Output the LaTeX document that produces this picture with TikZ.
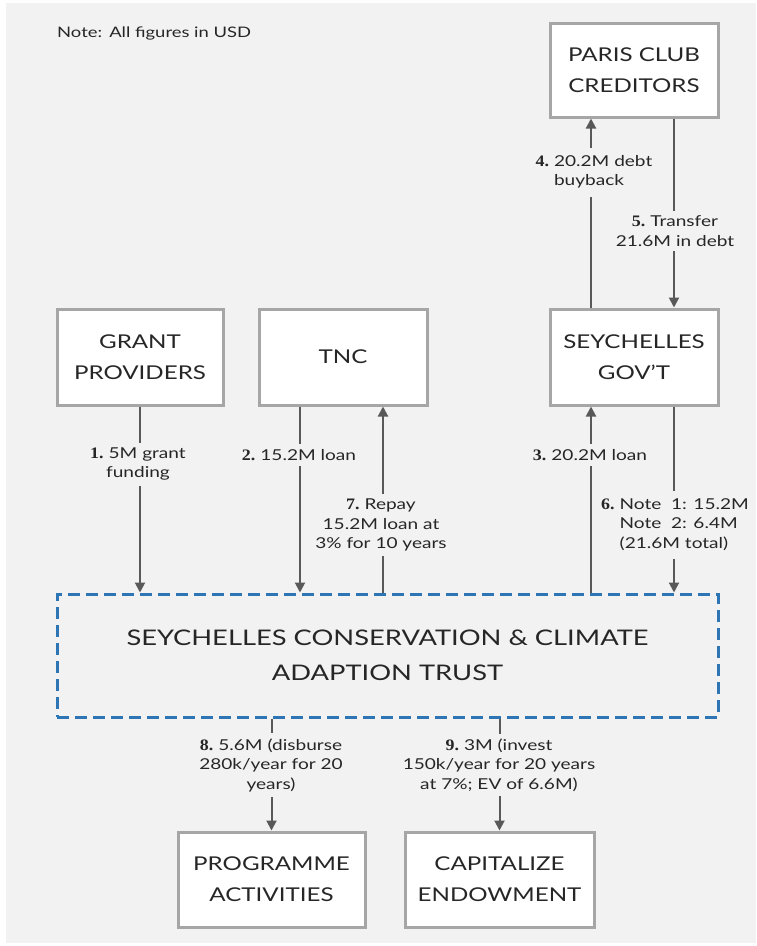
\documentclass[tikz,border=0pt]{standalone}
\usepackage{fontspec}
\setmainfont{Lato}[FakeStretch=1.27]
\newfontfamily\numfont{Liberation Serif}[FakeStretch=1.12]
\usetikzlibrary{arrows.meta,calc}
\definecolor{bgc}{HTML}{F2F2F2}
\definecolor{boxc}{HTML}{A6A6A6}
\definecolor{txt}{HTML}{262626}
\definecolor{arrc}{HTML}{595959}
\definecolor{trustc}{HTML}{2E75B6}
\newcommand\stepnum[1]{{\numfont\bfseries\fontsize{16}{19}\selectfont #1}\kern5pt}
\begin{document}
\begin{tikzpicture}[x=1pt,y=-1pt,
  box/.style={draw=boxc, line width=3pt, fill=white, text=txt, font=\fontsize{19}{31}\selectfont, align=center, inner sep=0pt},
  trustbox/.style={draw=trustc, line width=3pt, dash pattern=on 12pt off 6pt, text=txt, font=\fontsize{21.5}{35}\selectfont, align=center, inner sep=0pt},
  lab/.style={fill=bgc, text=txt, font=\fontsize{15}{19.5}\selectfont, align=center, inner xsep=2pt, inner ysep=5pt},
  arr/.style={draw=arrc, line width=2pt, -{Triangle[length=10pt,width=10pt]}}]
\useasboundingbox (0,0) rectangle (756,946);
\fill[bgc] (6,3) rectangle (756,943);
\node[anchor=west, text=txt, font=\fontsize{14.5}{16}\selectfont, inner sep=0pt] (note) at (57,33) {Note:\ \,All figures in USD};
% boxes
\node[box, minimum width=168pt, minimum height=94pt] (paris) at (634,70) {PARIS CLUB\\CREDITORS};
\node[box, minimum width=166pt, minimum height=96pt] (grant) at (140,357) {GRANT\\PROVIDERS};
\node[box, minimum width=168pt, minimum height=96pt] (tnc) at (343,357) {TNC};
\node[box, minimum width=168pt, minimum height=96pt] (govt) at (634,357) {SEYCHELLES\\GOV'T};
\node[trustbox, minimum width=661pt, minimum height=123pt] (trust) at (387.5,655.5) {SEYCHELLES CONSERVATION \& CLIMATE\\ADAPTION TRUST};
\node[box, minimum width=187pt, minimum height=95pt] (prog) at (271.5,879.5) {PROGRAMME\\ACTIVITIES};
\node[box, minimum width=189pt, minimum height=95pt] (endow) at (499.5,879.5) {CAPITALIZE\\ENDOWMENT};
% x positions of connectors
\coordinate (c2) at (300,0);
\coordinate (c7) at (383,0);
\coordinate (c4) at (591,0);
\coordinate (c5) at (674,0);
% connectors
\draw[arr] (govt.north -| c4) -- (paris.south -| c4);
\draw[arr] (paris.south -| c5) -- (govt.north -| c5);
\draw[arr] (grant.south) -- (trust.north -| grant.south);
\draw[arr] (tnc.south -| c2) -- (trust.north -| c2);
\draw[arr] (trust.north -| c7) -- (tnc.south -| c7);
\draw[arr] (trust.north -| c4) -- (govt.south -| c4);
\draw[arr] (govt.south -| c5) -- (trust.north -| c5);
\draw[arr] (trust.south -| prog.north) -- (prog.north);
\draw[arr] (trust.south -| endow.north) -- (endow.north);
% labels
\node[lab] (l1) at (138,464) {\stepnum{1.}5M grant\\funding};
\node[lab] (l2) at (299,455) {\stepnum{2.}15.2M loan};
\node[lab] (l3) at (590,455) {\stepnum{3.}20.2M loan};
\node[lab] (l4) at (594,172) {\begin{tabular}{@{}l@{}l@{}}\stepnum{4.} & 20.2M debt\\ & buyback\end{tabular}};
\node[lab] (l5) at (675,231) {\stepnum{5.}Transfer\\21.6M in debt};
\node[lab] (l6) at (675,525) {\begin{tabular}{@{}l@{}l@{}}\stepnum{6.} & Note\ \ 1: 15.2M\\ & Note\ \ 2: 6.4M\\ & (21.6M total)\end{tabular}};
\node[lab] (l7) at (381,525) {\stepnum{7.}Repay\\15.2M loan at\\3\% for 10 years};
\node[lab] (l8) at (271,765) {\stepnum{8.}5.6M (disburse\\280k/year for 20\\years)};
\node[lab] (l9) at (499,765) {\stepnum{9.}3M (invest\\150k/year for 20 years\\at 7\%; EV of 6.6M)};
\end{tikzpicture}
\end{document}
